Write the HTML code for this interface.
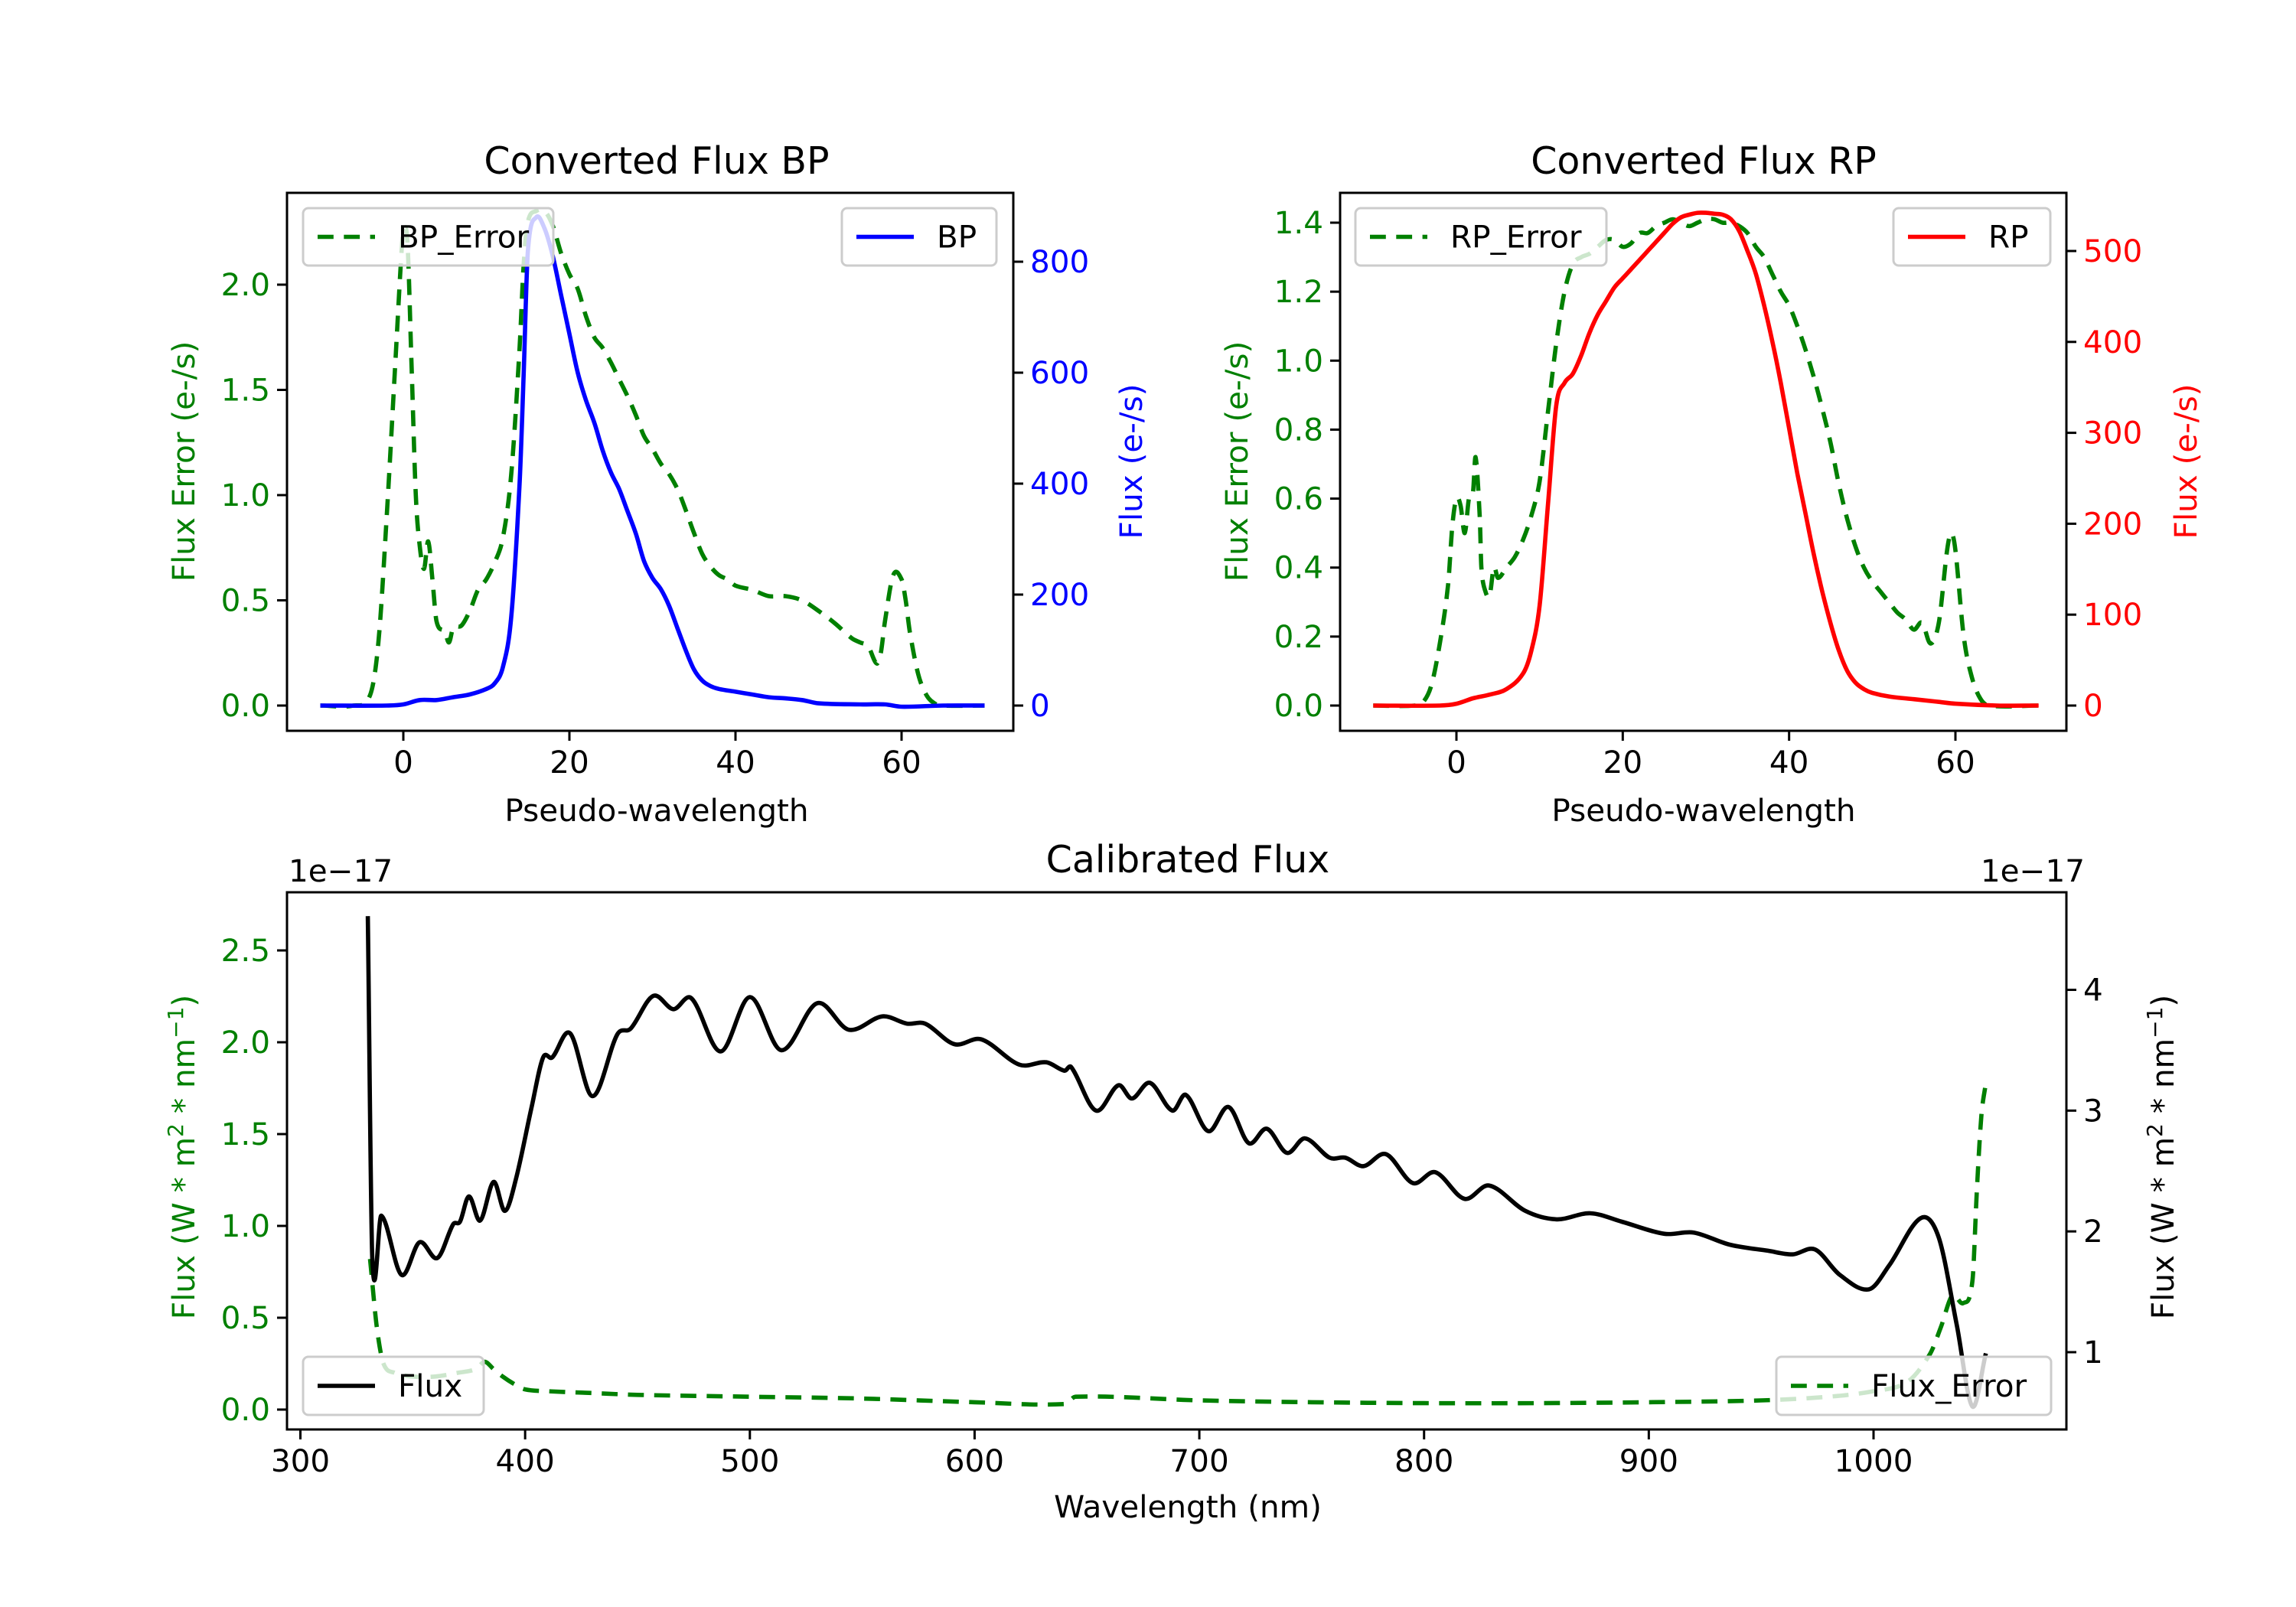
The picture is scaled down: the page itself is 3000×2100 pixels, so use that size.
<!DOCTYPE html>
<html><head><meta charset="utf-8"><style>
html,body{margin:0;padding:0;background:#fff;}
svg{display:block;font-family:"DejaVu Sans","Liberation Sans",sans-serif;}
</style></head><body>
<svg id="fig" width="3000" height="2100" viewBox="0 0 3000 2100" xmlns="http://www.w3.org/2000/svg">
<rect width="3000" height="2100" fill="#fff"/>
</svg>
<script>
// ---- data: BP panel ----
const bpErrX=[-10,-6,-4,-3,-2,-1,-0.3,0,0.5,1,1.5,2,2.5,3,3.5,4,5,5.5,6,7,8,9,10,11,12,13,14,14.5,15,16,17,18,19,20,21,22,23,24,25,26,27,28,29,30,31,32,33,34,35,36,37,38,39,40,42,44,46,48,50,52,54,55,56,57,57.5,58,59,60,60.5,61,62,63,64,65,70];
const bpErrY=[0,0,0.05,0.3,0.9,1.6,2.1,2.25,2.2,1.6,1.0,0.75,0.65,0.78,0.6,0.4,0.35,0.3,0.37,0.38,0.45,0.55,0.6,0.68,0.8,1.1,1.7,2.1,2.3,2.35,2.35,2.28,2.15,2.05,1.98,1.85,1.75,1.7,1.63,1.55,1.47,1.38,1.28,1.22,1.15,1.1,1.03,0.93,0.82,0.72,0.66,0.62,0.6,0.57,0.55,0.52,0.52,0.5,0.45,0.39,0.32,0.3,0.28,0.2,0.25,0.4,0.62,0.6,0.5,0.35,0.15,0.05,0.01,0,0];
const bpX=[-10,-2,0,2,4,6,8,10,11,12,13,14,14.5,15,16,17,18,19,20,21,22,23,24,25,26,27,28,29,30,31,32,33,34,35,36,37,38,40,42,44,46,48,50,55,58,60,65,70];
const bpY=[0,0,2,10,10,15,20,30,40,70,160,400,600,820,880,860,810,740,670,600,550,510,460,420,390,350,310,260,230,210,180,140,100,65,45,35,30,25,20,15,13,10,4,2,2,-2,0,0];
// ---- data: RP panel ----
const rpErrX=[-10,-5,-4,-3,-2,-1,-0.5,0,0.5,1,1.5,2,2.3,2.8,3,3.5,4,4.5,5,6,7,8,9,10,11,12,13,14,15,16,17,18,19,20,21,22,23,24,25,26,27,28,29,30,31,32,33,34,35,36,37,38,39,40,41,42,43,44,45,46,47,48,49,50,51,52,53,54,55,56,57,58,59,59.5,60,61,62,63,64,70];
const rpErrY=[0,0,0.01,0.06,0.18,0.35,0.52,0.6,0.58,0.5,0.6,0.62,0.72,0.55,0.4,0.33,0.32,0.4,0.37,0.4,0.43,0.48,0.55,0.65,0.85,1.05,1.2,1.28,1.3,1.31,1.33,1.35,1.35,1.33,1.34,1.37,1.37,1.39,1.4,1.41,1.4,1.39,1.4,1.41,1.41,1.4,1.4,1.39,1.37,1.33,1.3,1.25,1.2,1.16,1.1,1.03,0.95,0.86,0.76,0.64,0.54,0.46,0.4,0.36,0.33,0.3,0.27,0.25,0.22,0.24,0.18,0.24,0.45,0.5,0.45,0.2,0.08,0.02,0,0];
const rpX=[-10,-2,0,2,4,6,8,9,10,11,12,13,14,15,16,17,18,19,20,21,22,23,24,25,26,27,28,29,30,31,32,33,34,35,36,37,38,39,40,41,42,43,44,45,46,47,48,49,50,52,55,58,60,65,70];
const rpY=[0,0,2,8,12,18,35,60,110,220,330,355,365,385,410,430,445,460,470,480,490,500,510,520,530,537,540,542,542,541,540,535,522,500,475,440,400,355,305,255,210,165,125,90,60,38,25,18,14,10,7,4,2,0,0];
// ---- data: calibrated panel ----
const wl=[330,332,336,345,353,361,368,371,375,380,386,391,396,403,408,412,420,430,441,447,457,466,474,487,500,514,530,544,559,570,578,591,603,620,632,640,643,654,664,670,678,688,694,704,713,722,730,739,747,758,765,773,783,795,805,818,829,845,859,874,888,907,920,936,953,964,974,985,998,1007,1021,1029,1037,1044,1050];
const flux=[4.61,1.77,2.13,1.64,1.91,1.78,2.06,2.08,2.29,2.09,2.41,2.17,2.44,3.04,3.44,3.44,3.64,3.12,3.63,3.68,3.95,3.84,3.93,3.49,3.94,3.5,3.89,3.67,3.78,3.72,3.72,3.55,3.59,3.38,3.4,3.33,3.36,3.0,3.21,3.1,3.23,3.0,3.13,2.83,3.03,2.73,2.85,2.65,2.77,2.61,2.61,2.54,2.64,2.4,2.49,2.27,2.38,2.17,2.1,2.15,2.08,1.98,1.99,1.89,1.84,1.81,1.85,1.64,1.52,1.72,2.11,1.95,1.23,0.55,0.99];
const wlErr=[331,334,337,342,350,360,370,378,382,386,390,395,400,410,430,450,500,550,600,640,645,700,750,800,850,900,950,980,1000,1015,1025,1030,1035,1040,1044,1046,1048,1050];
const fluxErr=[0.82,0.45,0.25,0.2,0.18,0.18,0.2,0.22,0.26,0.22,0.18,0.14,0.11,0.1,0.09,0.08,0.07,0.06,0.04,0.03,0.07,0.05,0.04,0.035,0.035,0.04,0.05,0.07,0.1,0.15,0.3,0.45,0.62,0.58,0.7,1.2,1.6,1.78];
const bpTicksX=[0,20,40,60], bpTicksL=[0,0.5,1.0,1.5,2.0], bpTicksR=[0,200,400,600,800];
const rpTicksL=[0,0.2,0.4,0.6,0.8,1.0,1.2,1.4], rpTicksR=[0,100,200,300,400,500];
const calTicksX=[300,400,500,600,700,800,900,1000], calTicksL=[0,0.5,1.0,1.5,2.0,2.5], calTicksR=[1,2,3,4];

const NS="http://www.w3.org/2000/svg", svg=document.getElementById('fig');
function el(tag,attrs,parent,text){const e=document.createElementNS(NS,tag);for(const k in attrs)e.setAttribute(k,attrs[k]);if(text!==undefined)e.textContent=text;(parent||svg).appendChild(e);return e;}
function lin(d0,d1,r0,r1){return v=>r0+(v-d0)*(r1-r0)/(d1-d0);}
const FS=40.5, DASH="20.8 13.5", LW=5.6;
function path(xs,ys,sx,sy){
  const P=xs.map((x,i)=>[sx(x),sy(ys[i])]);
  let d='M'+P[0][0].toFixed(1)+' '+P[0][1].toFixed(1);
  for(let i=0;i<P.length-1;i++){
    const p0=P[Math.max(i-1,0)],p1=P[i],p2=P[i+1],p3=P[Math.min(i+2,P.length-1)];
    const dx=(p2[0]-p1[0])/3;
    const m1=(p2[1]-p0[1])/((p2[0]-p0[0])||1), m2=(p3[1]-p1[1])/((p3[0]-p1[0])||1);
    const c1=[p1[0]+dx,p1[1]+m1*dx], c2=[p2[0]-dx,p2[1]-m2*dx];
    d+=' C'+c1[0].toFixed(1)+' '+c1[1].toFixed(1)+' '+c2[0].toFixed(1)+' '+c2[1].toFixed(1)+' '+p2[0].toFixed(1)+' '+p2[1].toFixed(1);
  }
  return d;
}
function fmt(v,d){return v.toFixed(d);}

function panel(o){
  const g=el('g',{});
  
  
  const {L,R,T,B}=o;
  const cid=o.name+'-clip';
  const cp=el('clipPath',{id:cid},g);el('rect',{x:L,y:T,width:R-L,height:B-T},cp);
  o.xt.forEach(v=>{const x=o.sx(v);
    const t=el('line',{x1:x,x2:x,y1:B,y2:B+13,stroke:'#000','stroke-width':3},g);
    
    
    const lb=el('text',{x:x,y:B+55,'font-size':FS,'text-anchor':'middle',fill:'#000'},g,String(v));
    
    
  });
  o.ylt.forEach(v=>{const y=o.syl(v);
    el('line',{x1:L-13,x2:L,y1:y,y2:y,stroke:'#000','stroke-width':3},g);
    const lb=el('text',{x:L-22,y:y+14,'font-size':FS,'text-anchor':'end',fill:'green'},g,fmt(v,o.yld));
    
    
  });
  o.yrt.forEach(v=>{const y=o.syr(v);
    el('line',{x1:R,x2:R+13,y1:y,y2:y,stroke:'#000','stroke-width':3},g);
    const lb=el('text',{x:R+22,y:y+14,'font-size':FS,'text-anchor':'start',fill:o.rc},g,fmt(v,o.yrd));
    
    
  });
  const s1=el('path',{d:path(o.ex,o.ey,o.sx,o.syl),fill:'none',stroke:'green','stroke-width':LW,'stroke-dasharray':DASH,'clip-path':'url(#'+cid+')'},g);
  
  
  const s2=el('path',{d:path(o.fx,o.fy,o.sx,o.syr),fill:'none',stroke:o.rc,'stroke-width':LW,'stroke-linejoin':'round','clip-path':'url(#'+cid+')'},g);
  
  
  o.legs.forEach(l=>{
    const lg=el('g',{},g);
    
    
    el('rect',{x:l.x0,y:l.y0,width:l.x1-l.x0,height:l.y1-l.y0,rx:7,fill:'#fff','fill-opacity':0.8,stroke:'#ccc','stroke-width':3},lg);
    const cy=(l.y0+l.y1)/2;
    const a={x1:l.x0+19,x2:l.x0+94,y1:cy,y2:cy,stroke:l.c,'stroke-width':LW};
    if(l.dash)a['stroke-dasharray']=DASH;
    el('line',a,lg);
    el('text',{x:l.x0+124,y:cy+14,'font-size':FS,fill:'#000'},lg,l.t);
  });
  const fr=el('rect',{x:L,y:T,width:R-L,height:B-T,fill:'none',stroke:'#000','stroke-width':3},g);
  
  
  return g;
}

panel({name:'bp-panel',L:375,R:1324,T:252,B:955,sx:lin(0,60,527,1178),syl:lin(0,2,922,372),syr:lin(0,800,922,342),
 xt:bpTicksX,ylt:bpTicksL,yld:1,yrt:bpTicksR,yrd:0,rc:'blue',ex:bpErrX,ey:bpErrY,fx:bpX,fy:bpY,
 legs:[{name:'bp-error-legend',x0:396,x1:723,y0:272,y1:347,c:'green',dash:1,t:'BP_Error'},{name:'bp-legend',x0:1100,x1:1302,y0:272,y1:347,c:'blue',t:'BP'}]});
panel({name:'rp-panel',L:1751,R:2700,T:252,B:955,sx:lin(0,60,1903,2555),syl:lin(0,1.4,922,291),syr:lin(0,500,922,328),
 xt:bpTicksX,ylt:rpTicksL,yld:1,yrt:rpTicksR,yrd:0,rc:'red',ex:rpErrX,ey:rpErrY,fx:rpX,fy:rpY,
 legs:[{name:'rp-error-legend',x0:1771,x1:2099,y0:272,y1:347,c:'green',dash:1,t:'RP_Error'},{name:'rp-legend',x0:2474,x1:2679,y0:272,y1:347,c:'red',t:'RP'}]});
panel({name:'calibrated-panel',L:375,R:2700,T:1166,B:1868,sx:lin(300,1000,392.5,2448),syl:lin(0,2.5,1842,1242),syr:lin(1,4,1767,1293.5),
 xt:calTicksX,ylt:calTicksL,yld:1,yrt:calTicksR,yrd:0,rc:'#000',ex:wlErr,ey:fluxErr,fx:wl,fy:flux,
 legs:[{name:'flux-legend',x0:396,x1:632,y0:1773,y1:1849,c:'#000',t:'Flux'},{name:'flux-error-legend',x0:2321,x1:2680,y0:1773,y1:1849,c:'green',dash:1,t:'Flux_Error'}]});
</script>
<script>
(function(){
const NS="http://www.w3.org/2000/svg", svg=document.getElementById('fig');
function t(x,y,s,fs,fill,name,anchor,rot){const e=document.createElementNS(NS,'text');
 e.setAttribute('x',x);e.setAttribute('y',y);e.setAttribute('font-size',fs);e.setAttribute('fill',fill);e.setAttribute('text-anchor',anchor||'middle');
 if(rot)e.setAttribute('transform','rotate(-90 '+x+' '+y+')');
 e.textContent=s;
 
 
 svg.appendChild(e);return e;}
t(858,227,'Converted Flux BP',49,'#000','bp-title');
t(2226,227,'Converted Flux RP',49,'#000','rp-title');
t(858,1073,'Pseudo-wavelength',40.5,'#000','bp-x-axis-title');
t(2226,1073,'Pseudo-wavelength',40.5,'#000','rp-x-axis-title');
t(254,603,'Flux Error (e-/s)',40.5,'green','bp-left-y-axis-title','middle',1);
t(1492,603,'Flux (e-/s)',40.5,'blue','bp-right-y-axis-title','middle',1);
t(1630,603,'Flux Error (e-/s)',40.5,'green','rp-left-y-axis-title','middle',1);
t(2870,603,'Flux (e-/s)',40.5,'red','rp-right-y-axis-title','middle',1);
t(1552,1140,'Calibrated Flux',49,'#000','calibrated-title');
t(1552,1983,'Wavelength (nm)',40.5,'#000','calibrated-x-axis-title');
t(377,1152,'1e\u221217',40.5,'#000','left-offset-label','start');
t(2724,1152,'1e\u221217',40.5,'#000','right-offset-label','end');
function yl(x,fill,name){const e=t(x,1512,'',40.5,fill,name,'middle',1);
 e.innerHTML='Flux (W * m<tspan dy="-15" font-size="28">2</tspan><tspan dy="15"> * nm</tspan><tspan dy="-15" font-size="28">\u22121</tspan><tspan dy="15">)</tspan>';}
yl(254,'green','calibrated-left-y-axis-title');
yl(2840,'#000','calibrated-right-y-axis-title');
})();
</script>
</body></html>
